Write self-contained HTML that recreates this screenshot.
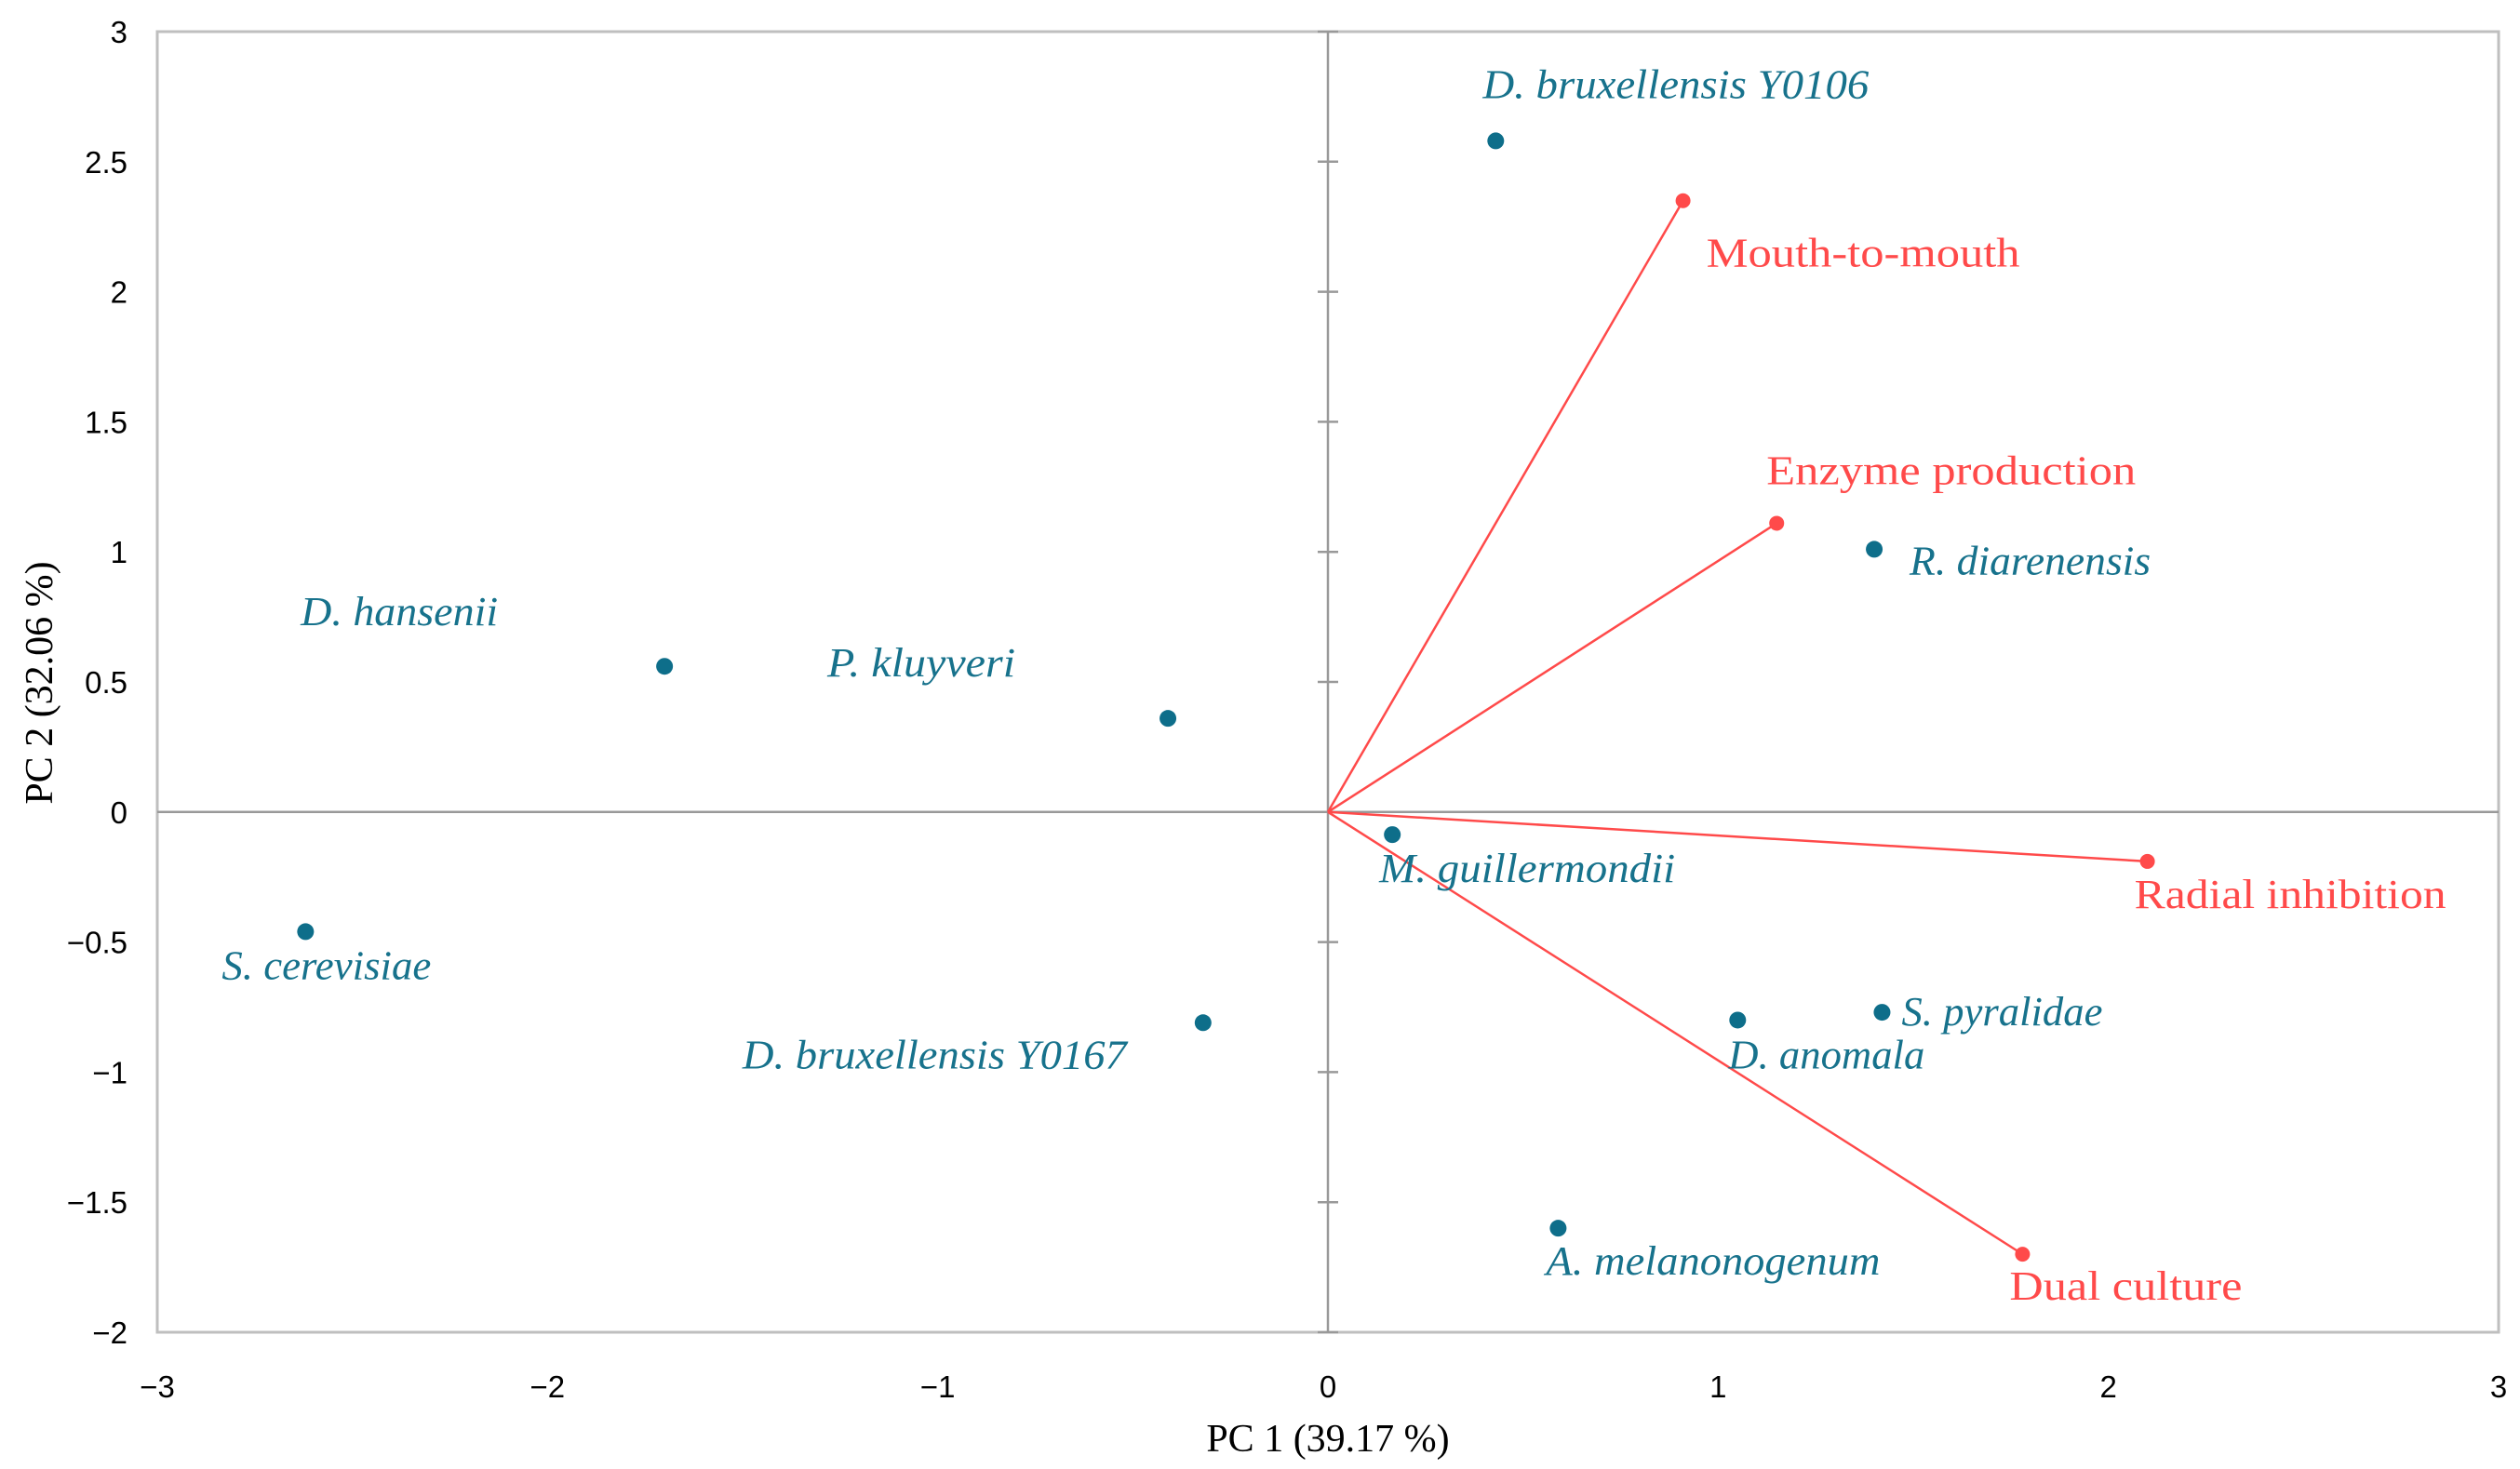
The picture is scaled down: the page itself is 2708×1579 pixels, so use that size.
<!DOCTYPE html>
<html><head><meta charset="utf-8"><style>
html,body{margin:0;padding:0;background:#fff;}
svg{display:block;}
.tick{font-family:"Liberation Sans",sans-serif;font-size:33px;fill:#000;}
.lab{font-family:"Liberation Serif",serif;font-size:44px;}
</style></head><body>
<svg id="chart" width="2708" height="1579" viewBox="0 0 2708 1579" xmlns="http://www.w3.org/2000/svg">
<rect x="169" y="34" width="2516" height="1398" fill="none" stroke="#bfbfbf" stroke-width="3"/>
<g id="axes"></g>
<g id="vectors"></g>
<g id="points"></g>
<text class="lab" x="1427" y="1560" text-anchor="middle" fill="#000" style="font-size:42px">PC 1 (39.17 %)</text>
<text class="lab" x="0" y="0" text-anchor="middle" fill="#000" transform="translate(56,734) rotate(-90)" style="font-size:42px">PC 2 (32.06 %)</text>
</svg>
<script>
const xTicks = [-3,-2,-1,0,1,2,3];
const yTicks = [-2,-1.5,-1,-0.5,0,0.5,1,1.5,2,2.5,3];
const sampleNames = ["D. bruxellensis Y0106","R. diarenensis","D. hansenii","P. kluyveri","S. cerevisiae","M. guillermondii","D. bruxellensis Y0167","D. anomala","S. pyralidae","A. melanonogenum"];
const sampleX = [0.43,1.40,-1.70,-0.41,-2.62,0.165,-0.32,1.05,1.42,0.59];
const sampleY = [2.58,1.01,0.56,0.36,-0.46,-0.087,-0.81,-0.80,-0.77,-1.60];
// label placement offsets (pixels) relative to point: dx, dy, width
const sampleLabelDX = [-14,38,-391,-366,-90,-14,-495,-10,21,-13];
const sampleLabelDY = [-46,27,-44,-45,51,51,49,52,14,50];
const sampleLabelW = [415,259,212,202,225,318,413,211,216,359];
const varNames = ["Mouth-to-mouth","Enzyme production","Radial inhibition","Dual culture"];
const varX = [0.91,1.15,2.10,1.78];
const varY = [2.35,1.11,-0.19,-1.70];
const varLabelDX = [25,-11,-14,-14];
const varLabelDY = [71,-42,50,49];
const varLabelW = [337,397,335,250];

const X0=169,X1=2685,Y0=1432,Y1=34;
const sx=v=>X0+(v-(-3))/6*(X1-X0);
const sy=v=>Y0-(v-(-2))/5*(Y0-Y1);
const NS="http://www.w3.org/2000/svg";
function mk(tag,attrs,parent,txt){const e=document.createElementNS(NS,tag);for(const k in attrs)e.setAttribute(k,attrs[k]);if(txt!==undefined)e.textContent=txt;parent.appendChild(e);return e;}
const axes=document.getElementById('axes');
let l=mk('line',{x1:X0,x2:X1,y1:sy(0),y2:sy(0),stroke:'#999',"stroke-width":2.5},axes);


l=mk('line',{x1:sx(0),x2:sx(0),y1:Y1,y2:Y0,stroke:'#999',"stroke-width":2.5},axes);


xTicks.forEach(t=>{
  const tx=mk('text',{x:sx(t),y:1502,"text-anchor":"middle",class:"tick"},axes,t<0?'\u2212'+Math.abs(t):String(t));
  
  
});
yTicks.forEach(t=>{
  const m=mk('line',{x1:sx(0)-11,x2:sx(0)+11,y1:sy(t),y2:sy(t),stroke:'#999',"stroke-width":2.5},axes);
  
  
  const tx=mk('text',{x:137,y:sy(t)+12,"text-anchor":"end",class:"tick"},axes,t<0?'\u2212'+Math.abs(t):String(t));
  
  
});
const vg=document.getElementById('vectors');
varNames.forEach((n,i)=>{
  const px=sx(varX[i]),py=sy(varY[i]);
  const ln=mk('line',{x1:sx(0),y1:sy(0),x2:px,y2:py,stroke:'#ff4a4a',"stroke-width":2.5},vg);
  
  
  const c=mk('circle',{cx:px,cy:py,r:8,fill:'#ff4a4a'},vg);
  
  
  const t=mk('text',{x:px+varLabelDX[i],y:py+varLabelDY[i],class:'lab',fill:'#ff4a4a',textLength:varLabelW[i],lengthAdjust:'spacingAndGlyphs'},vg,n);
  
  
});
const pg=document.getElementById('points');
sampleNames.forEach((n,i)=>{
  const px=sx(sampleX[i]),py=sy(sampleY[i]);
  const c=mk('circle',{cx:px,cy:py,r:9,fill:'#0e6e8a'},pg);
  
  
  const t=mk('text',{x:px+sampleLabelDX[i],y:py+sampleLabelDY[i],class:'lab',fill:'#17728c',"font-style":"italic",textLength:sampleLabelW[i],lengthAdjust:'spacingAndGlyphs'},pg,n);
  
  
});
</script>
</body></html>
